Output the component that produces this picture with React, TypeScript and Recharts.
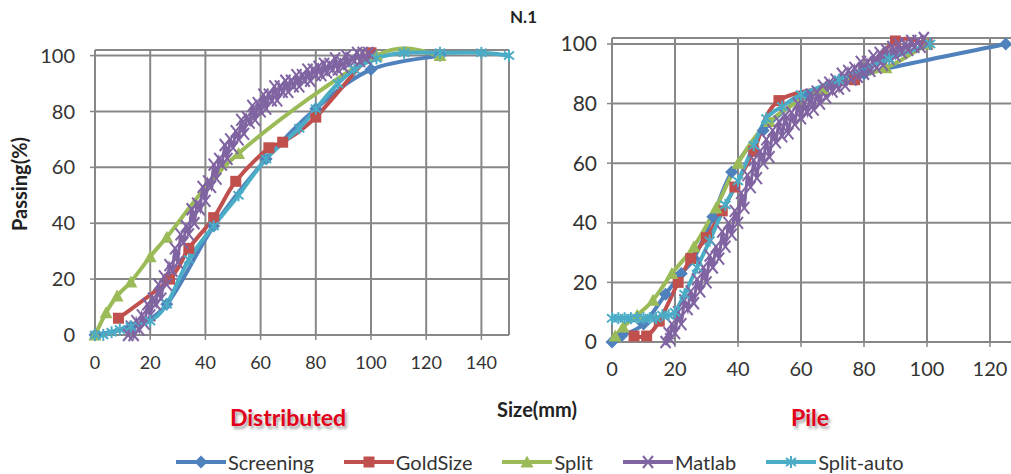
import React from "react"
import { LineChart, Line, XAxis, YAxis, CartesianGrid } from "recharts"

type Pt = [number, number]

// colours (Excel 2007 palette)
const BLUE = "#4F81BD"
const RED = "#C0504D"
const GREEN = "#9BBB59"
const PURPLE = "#8064A2"
const CYAN = "#4BACC6"
const GRID = "#878787"
const FONT = "Lato, 'Open Sans', sans-serif"

// ---- Distributed (left) ----
const distScreening: Pt[] = [[0, 0], [13, 3], [26, 11], [43, 39], [62, 63], [80, 81], [100, 95], [125, 100]]
const distGoldSize: Pt[] = [[8.5, 6], [27, 20], [34, 31], [43, 42], [51, 55], [63, 67], [68, 69], [80, 78], [100, 101]]
const distSplit: Pt[] = [[0, 0], [4, 8], [8, 14], [13, 19], [20, 28], [26, 35], [52, 65], [102, 100], [125, 100]]
const distMatlab: Pt[] = [
  [12, 0], [13, 3], [14, 0], [15, 5], [16, 2], [17, 7], [18, 4], [19, 11], [20, 7], [21, 13],
  [22, 11], [23, 18], [24, 13], [25, 21], [26, 18], [27, 25], [28, 23], [29, 31], [30, 26], [31, 36],
  [32, 33], [33, 39], [34, 36], [35, 45], [36, 40], [37, 47], [38, 45], [39, 53], [40, 48], [41, 55],
  [42, 53], [43, 61], [44, 56], [45, 63], [46, 61], [47, 68], [48, 63], [49, 70], [50, 67], [51, 73],
  [52, 70], [53, 77], [54, 72], [55, 78], [56, 76], [57, 82], [58, 77], [59, 83], [60, 80], [61, 86],
  [62, 81], [63, 86], [64, 84], [65, 89], [66, 84], [67, 89], [68, 87], [69, 91], [70, 87], [71, 91],
  [72, 89], [73, 93], [74, 89], [75, 93], [76, 91], [77, 95], [78, 91], [79, 95], [80, 93], [81, 96],
  [82, 93], [83, 97], [84, 94], [85, 97], [86, 95], [87, 99], [88, 95], [89, 98], [90, 96], [91, 100],
  [92, 97], [93, 99], [94, 98], [95, 101], [96, 98], [97, 101], [98, 99], [99, 101], [100, 100],
]
const distSplitAuto: Pt[] = [
  [0, 0], [3, 0], [6, 1], [9, 2], [13, 3], [20, 5], [26, 11], [34, 27], [43, 39], [52, 50],
  [62, 63], [74, 74], [80, 81], [88, 90], [94, 95], [102, 99], [112, 101], [125, 101], [140, 101], [150, 100],
]

// ---- Pile (right) ----
const pileScreening: Pt[] = [[0, 0], [3, 2], [10, 6], [17, 16], [22, 23], [26, 28], [32, 42], [38, 57], [48, 71], [62, 83], [80, 90], [125, 100]]
const pileGoldSize: Pt[] = [[7, 2], [11, 2], [15, 7], [21, 20], [25, 28], [30, 35], [35, 44], [39, 52], [45, 64], [53, 81], [77, 88], [90, 101], [100, 100]]
const pileSplit: Pt[] = [[1, 2], [3.5, 5], [8, 9], [13, 14], [19, 23], [26, 32], [33, 45], [40, 60], [50, 74], [67, 85], [87, 92], [100, 100]]
const pileMatlab: Pt[] = [
  [17, 0], [18, 3], [18.5, 1], [19, 6], [20, 3], [21, 10], [22, 6], [23, 14], [24, 11], [25, 17],
  [26, 13], [27, 21], [28, 17], [29, 25], [30, 20], [31, 29], [32, 25], [33, 32], [34, 28], [35, 37],
  [36, 32], [37, 40], [38, 36], [39, 44], [40, 40], [41, 50], [42, 45], [43, 56], [44, 52], [45, 61],
  [46, 55], [47, 64], [48, 60], [49, 68], [50, 62], [51, 71], [52, 67], [53, 74], [54, 69], [55, 76],
  [56, 70], [57, 77], [58, 73], [59, 80], [60, 75], [61, 80], [62, 77], [63, 83], [64, 78], [65, 84],
  [66, 80], [67, 86], [68, 82], [69, 87], [70, 84], [71, 88], [72, 85], [73, 90], [74, 86], [75, 91],
  [76, 88], [77, 92], [78, 89], [79, 94], [80, 90], [81, 94], [82, 91], [83, 96], [84, 92], [85, 97],
  [86, 93], [87, 98], [88, 95], [89, 99], [90, 96], [91, 100], [92, 97], [93, 100], [94, 98], [95, 101],
  [96, 99], [97, 101], [98, 99], [99, 102], [100, 100],
]
const pileSplitAuto: Pt[] = [
  [0, 8], [2, 8], [4, 8], [6, 8], [8, 8], [10, 8], [12, 8], [14, 8], [16, 9], [18, 9],
  [20, 10], [23, 16], [27, 25], [31, 34], [36, 46], [40, 54], [45, 66], [49, 75], [54, 79], [60, 83],
  [72, 88], [88, 95], [101, 100],
]

const yTicks = [0, 20, 40, 60, 80, 100]
const distXTicks = [0, 20, 40, 60, 80, 100, 120, 140]
const pileXTicks = [0, 20, 40, 60, 80, 100, 120]

const legendItems = [
  { name: "Screening", color: BLUE, shape: "diamond" },
  { name: "GoldSize", color: RED, shape: "square" },
  { name: "Split", color: GREEN, shape: "triangle" },
  { name: "Matlab", color: PURPLE, shape: "x" },
  { name: "Split-auto", color: CYAN, shape: "star" },
]

const toRows = (pts: Pt[]) => pts.map(([x, y]) => ({ x, y }))

// Excel-like smoothed line (Catmull-Rom as cubic bezier)
const excelCurve = (ctx: any) => {
  let pts: number[][] = []
  return {
    areaStart() {},
    areaEnd() {},
    lineStart() { pts = [] },
    point(x: number, y: number) { pts.push([+x, +y]) },
    lineEnd() {
      if (!pts.length) return
      ctx.moveTo(pts[0][0], pts[0][1])
      for (let i = 0; i < pts.length - 1; i++) {
        const p0 = pts[Math.max(i - 1, 0)]
        const p1 = pts[i]
        const p2 = pts[i + 1]
        const p3 = pts[Math.min(i + 2, pts.length - 1)]
        ctx.bezierCurveTo(
          p1[0] + (p2[0] - p0[0]) / 6, p1[1] + (p2[1] - p0[1]) / 6,
          p2[0] - (p3[0] - p1[0]) / 6, p2[1] - (p3[1] - p1[1]) / 6,
          p2[0], p2[1]
        )
      }
    },
  }
}

function marker(shape: string, cx: number, cy: number, color: string, key?: any) {
  const s = 5.5
  if (shape === "diamond")
    return <polygon key={key} points={`${cx},${cy - s - 1} ${cx + s + 1},${cy} ${cx},${cy + s + 1} ${cx - s - 1},${cy}`} fill={color} />
  if (shape === "square")
    return <rect key={key} x={cx - s} y={cy - s} width={s * 2} height={s * 2} fill={color} />
  if (shape === "triangle")
    return <polygon key={key} points={`${cx},${cy - s - 1} ${cx + s + 1},${cy + s} ${cx - s - 1},${cy + s}`} fill={color} />
  if (shape === "x")
    return (
      <g key={key} stroke={color} strokeWidth={2}>
        <line x1={cx - 5} y1={cy - 6} x2={cx + 5} y2={cy + 6} />
        <line x1={cx - 5} y1={cy + 6} x2={cx + 5} y2={cy - 6} />
      </g>
    )
  return (
    <g key={key} stroke={color} strokeWidth={2}>
      <line x1={cx - 5} y1={cy - 4} x2={cx + 5} y2={cy + 4} />
      <line x1={cx - 5} y1={cy + 4} x2={cx + 5} y2={cy - 4} />
      <line x1={cx} y1={cy - 6} x2={cx} y2={cy + 6} />
    </g>
  )
}

const dotFor = (shape: string, color: string) => (p: any) => {
  if (p.cx == null || p.cy == null) return <g key={p.index} />
  return marker(shape, p.cx, p.cy, color, p.index)
}

function Panel({
  series, xTicks, xMax, width, height, margin, tickMarginY, tickMarginX, xFont, yFont,
}: {
  series: Pt[][]
  xTicks: number[]
  xMax: number
  width: number
  height: number
  margin: { top: number; right: number; bottom: number; left: number }
  tickMarginY: number
  tickMarginX: number
  xFont: number
  yFont: number
}) {
  return (
    <LineChart width={width} height={height} margin={margin}>
      <CartesianGrid stroke={GRID} strokeWidth={2} />
      <XAxis
        type="number"
        dataKey="x"
        domain={[0, xMax]}
        ticks={xTicks}
        interval={0}
        axisLine={{ stroke: GRID, strokeWidth: 2 }}
        tickLine={{ stroke: GRID, strokeWidth: 1.5 }}
        tickSize={5}
        tickMargin={tickMarginX}
        tick={{ fill: "#333", fontSize: xFont, fontFamily: FONT }}
        height={30}
      />
      <YAxis
        type="number"
        domain={[0, 102]}
        ticks={yTicks}
        interval={0}
        axisLine={{ stroke: GRID, strokeWidth: 2 }}
        tickLine={{ stroke: GRID, strokeWidth: 1.5 }}
        tickSize={5}
        tickMargin={tickMarginY}
        tick={{ fill: "#333", fontSize: yFont, fontFamily: FONT }}
        width={60}
      />
      {series.map((pts, i) => {
        const it = legendItems[i]
        const isMatlab = it.shape === "x"
        return (
          <Line
            key={it.name}
            data={toRows(pts)}
            dataKey="y"
            type={isMatlab ? "linear" : (excelCurve as any)}
            stroke={it.color}
            strokeWidth={isMatlab ? 3 : 4}
            dot={dotFor(it.shape, it.color)}
            activeDot={false}
            isAnimationActive={false}
          />
        )
      })}
    </LineChart>
  )
}

export default function App() {
  return (
    <div style={{ position: "absolute", left: 0, top: 0, width: 1011, height: 474, overflow: "hidden", background: "#fff", fontFamily: FONT }}>
      <div style={{ position: "absolute", left: 0, top: 0 }}>
        <Panel
          series={[distScreening, distGoldSize, distSplit, distMatlab, distSplitAuto]}
          xTicks={distXTicks}
          xMax={150}
          width={520}
          height={400}
          margin={{ top: 50, right: 11, bottom: 35, left: 35 }}
          tickMarginY={15}
          tickMarginX={16}
          xFont={18}
          yFont={20}
        />
      </div>
      <div style={{ position: "absolute", left: 520, top: 0 }}>
        <Panel
          series={[pileScreening, pileGoldSize, pileSplit, pileMatlab, pileSplitAuto]}
          xTicks={pileXTicks}
          xMax={130}
          width={510}
          height={400}
          margin={{ top: 38, right: 8.5, bottom: 28, left: 32 }}
          tickMarginY={10}
          tickMarginX={15}
          xFont={20}
          yFont={21}
        />
      </div>

      <svg width={1011} height={474} style={{ position: "absolute", left: 0, top: 0, pointerEvents: "none" }}>
        <text x={510} y={23} fontSize={17} fontWeight="bold" fontFamily={FONT} fill="#222">N.1</text>
        <text x={27} y={184} transform="rotate(-90 27 184)" textAnchor="middle" fontSize={20} fontWeight="bold" fontFamily={FONT} fill="#222">Passing(%)</text>
        <text x={537} y={417} textAnchor="middle" fontSize={20} fontWeight="bold" fontFamily={FONT} fill="#222">Size(mm)</text>
        <text x={288} y={426} textAnchor="middle" fontSize={23} fontWeight="bold" fontFamily={FONT} fill="#E3001B" style={{ textShadow: "2px 3px 3px rgba(0,0,0,0.35)" }}>Distributed</text>
        <text x={810} y={426} textAnchor="middle" fontSize={23} fontWeight="bold" fontFamily={FONT} fill="#E3001B" style={{ textShadow: "2px 3px 3px rgba(0,0,0,0.35)" }}>Pile</text>
      </svg>

      <div style={{ position: "absolute", left: 176, top: 451, display: "flex", alignItems: "center" }}>
        {legendItems.map((it) => (
          <div key={it.name} style={{ display: "flex", alignItems: "center", marginRight: 30 }}>
            <svg width={50} height={22}>
              <line x1={0} y1={11} x2={50} y2={11} stroke={it.color} strokeWidth={4} />
              {marker(it.shape, 25, 11, it.color)}
            </svg>
            <span style={{ fontSize: 20, color: "#333", marginLeft: 2, lineHeight: "22px" }}>{it.name}</span>
          </div>
        ))}
      </div>
    </div>
  )
}
